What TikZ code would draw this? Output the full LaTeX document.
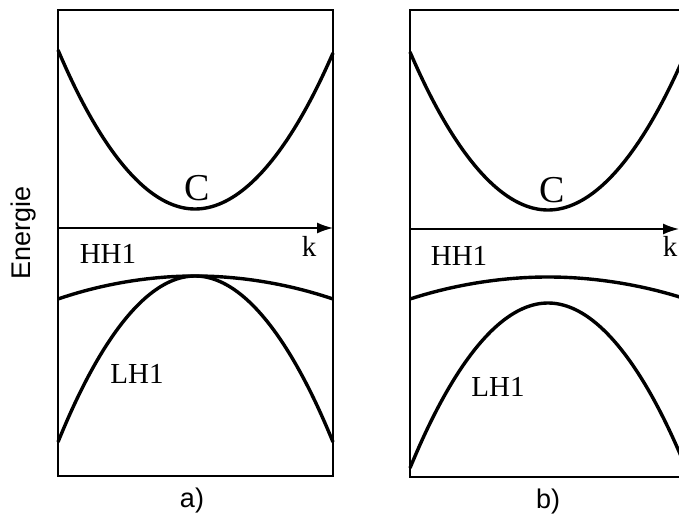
\documentclass[tikz,border=0pt]{standalone}
\usepackage{fontspec}
\setmainfont{Liberation Serif}
\setsansfont{Liberation Sans}
\usetikzlibrary{arrows.meta}
\tikzset{
  band/.style={line width=3.4pt},
  frame/.style={line width=1.6pt},
  axis/.style={line width=1.6pt,-{Latex[length=16pt,width=11pt]}},
  lab/.style={font=\fontsize{29}{30}\selectfont},
  big/.style={font=\fontsize{38}{40}\selectfont},
  side/.style={font=\sffamily\fontsize{27}{28}\selectfont}
}
\begin{document}
\begin{tikzpicture}[x=1pt,y=-1pt]
  \useasboundingbox (0,0) rectangle (679,516);
  \clip (0,0) rectangle (679,516);
  \node[side,rotate=90] (energie) at (24,233) {Energie};
  % Panel a
  \draw[frame] (58,10) rectangle (333,476);
  \draw[axis] (58,228) -- (333,228);
  \draw[band] (58,50) parabola bend (195,209) (333,53);
  \draw[band] (58,299) parabola bend (195,276) (333,299);
  \draw[band] (58,442) parabola bend (195,276) (333,442);
  \node[big] (ca) at (197,188) {C};
  \node[lab] (hha) at (108,254) {HH1};
  \node[lab] (ka) at (309,246) {k};
  \node[lab] (lha) at (137,374) {LH1};
  \node[side] (pa) at (192,501) {a)};
  % Panel b
  \draw[frame] (410,10) rectangle (686,477);
  \draw[axis] (410,229) -- (679,229);
  \draw[band] (410,52) parabola bend (548,210) (686,52);
  \draw[band] (410,299) parabola bend (548,277) (686,299);
  \draw[band] (410,468) parabola bend (548,303) (686,468);
  \node[big] (cb) at (552,190) {C};
  \node[lab] (hhb) at (459,256) {HH1};
  \node[lab] (kb) at (670,246) {k};
  \node[lab] (lhb) at (498,387) {LH1};
  \node[side] (pb) at (548,502) {b)};
\end{tikzpicture}
\end{document}
